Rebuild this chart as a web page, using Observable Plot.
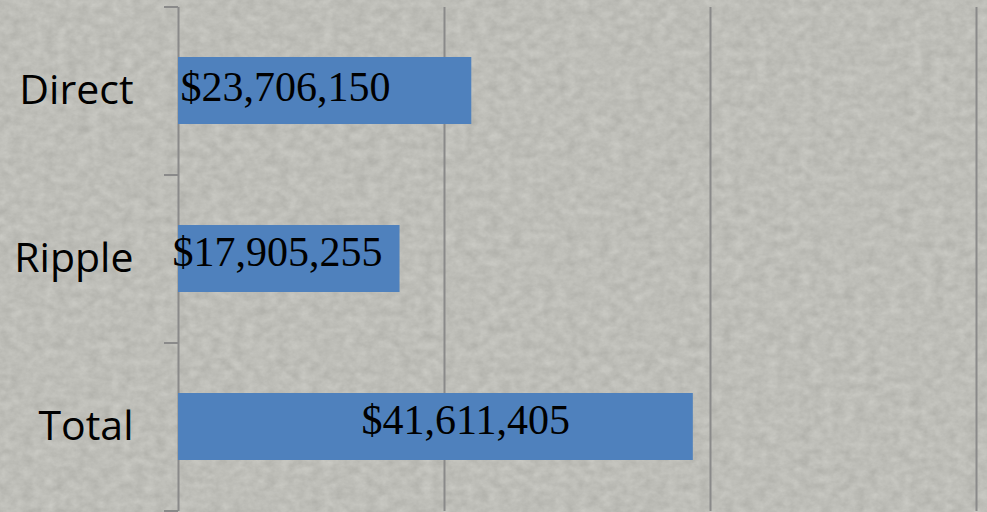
<!DOCTYPE html>
<html>
<head>
<meta charset="utf-8">
<script src="https://cdn.jsdelivr.net/npm/d3@7"></script>
<script src="https://cdn.jsdelivr.net/npm/@observablehq/plot@0.6"></script>
<style>
  html, body { margin: 0; padding: 0; background: #bcbcb6; }
  #chart svg { display: block; }
</style>
</head>
<body>
<div id="chart"></div>
<script>
// ---- data ----
const categories = ["Direct", "Ripple", "Total"];
const values = [23706150, 17905255, 41611405];
const valueLabels = ["$23,706,150", "$17,905,255", "$41,611,405"];
const gridTicks = [0, 21500000, 43000000, 64500000];

// ---- label styling (offsets in px, not data) ----
const labelDx = [2, -6, 183];
const labelDy = [-3, -6, -6];

const rows = categories.map((c, i) => ({category: c, value: values[i], label: valueLabels[i], dx: labelDx[i], dy: labelDy[i]}));

const W = 987, H = 512;
const mTop = 7, mBottom = 1, mLeft = 178, mRight = 11;
const halfStep = (H - mTop - mBottom) / categories.length / 2;

const plot = Plot.plot({
  width: W,
  height: H,
  marginTop: mTop,
  marginBottom: mBottom,
  marginLeft: mLeft,
  marginRight: mRight,
  style: {background: "transparent", overflow: "visible"},
  x: {domain: [0, 64500000], axis: null},
  y: {domain: categories, paddingInner: 0.6, paddingOuter: 0.3, label: null},
  marks: [
    Plot.ruleX(gridTicks, {stroke: "#8a8a8a", strokeWidth: 2}),
    Plot.axisY({tickSize: 0, tickPadding: 45, fontSize: 41, fontFamily: "Open Sans", fill: "#000"}),
    Plot.axisY({tickSize: 14, text: null, dy: -halfStep, stroke: "#8a8a8a", strokeWidth: 2}),
    Plot.axisY([categories[categories.length - 1]], {tickSize: 14, text: null, dy: halfStep, stroke: "#8a8a8a", strokeWidth: 2}),
    Plot.barX(rows, {y: "category", x: "value", fill: "#4f81bd"}),
    ...rows.map(r => Plot.text([r], {
      y: "category", x: 0, text: "label", textAnchor: "start", dx: r.dx, dy: r.dy,
      fontSize: 42, fontFamily: "Liberation Serif", fill: "#000"
    }))
  ]
});

// textured paper background
const ns = "http://www.w3.org/2000/svg";
const defs = document.createElementNS(ns, "defs");
defs.innerHTML = `
<filter id="paper" x="0" y="0" width="100%" height="100%" color-interpolation-filters="sRGB">
  <feTurbulence type="fractalNoise" baseFrequency="0.09 0.12" numOctaves="4" seed="7" result="n"/>
  <feColorMatrix in="n" type="saturate" values="0" result="g"/>
  <feComponentTransfer in="g">
    <feFuncR type="linear" slope="0.16" intercept="0.665"/>
    <feFuncG type="linear" slope="0.16" intercept="0.665"/>
    <feFuncB type="linear" slope="0.16" intercept="0.642"/>
    <feFuncA type="linear" slope="0" intercept="1"/>
  </feComponentTransfer>
</filter>`;
const bg = document.createElementNS(ns, "rect");
bg.setAttribute("x", 0); bg.setAttribute("y", 0);
bg.setAttribute("width", W); bg.setAttribute("height", H);
bg.setAttribute("filter", "url(#paper)");
bg.setAttribute("fill", "#bcbcb6");
plot.insertBefore(bg, plot.firstChild);
plot.insertBefore(defs, plot.firstChild);

document.getElementById("chart").appendChild(plot);
</script>
</body>
</html>
